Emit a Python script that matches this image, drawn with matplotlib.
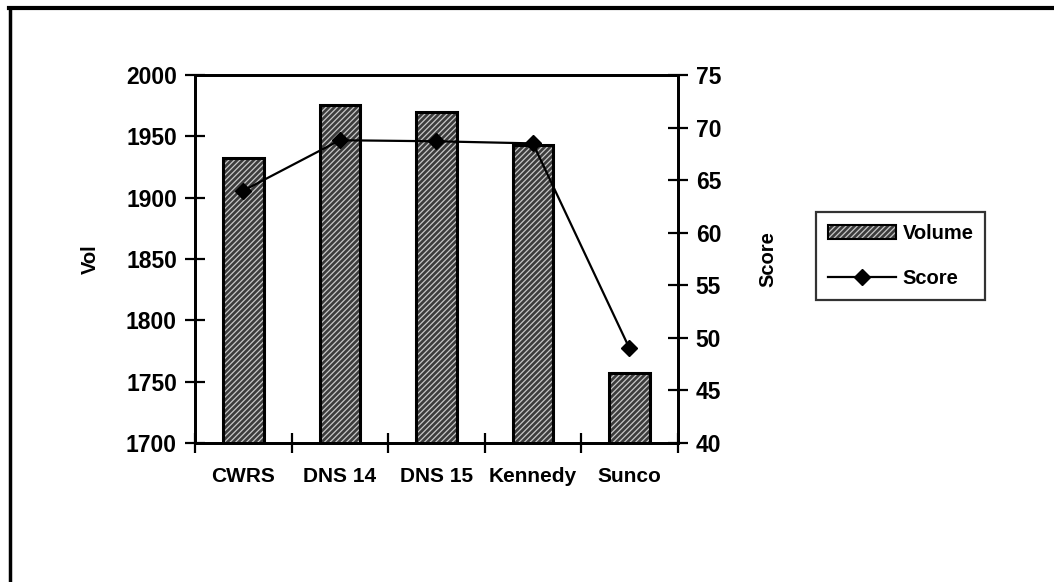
import matplotlib
matplotlib.use("Agg")
import numpy as np
import matplotlib.pyplot as plt
from matplotlib.lines import Line2D
from matplotlib.patches import Patch
from matplotlib.legend_handler import HandlerTuple

plt.rcParams['font.family'] = ['Liberation Sans', 'DejaVu Sans']
plt.rcParams['font.weight'] = 'bold'
plt.rcParams['hatch.linewidth'] = 0.9

varieties = ['CWRS', 'DNS 14', 'DNS 15', 'Kennedy', 'Sunco']
volume = [1932, 1976, 1970, 1943, 1757]
score = [64.0, 68.8, 68.7, 68.5, 49.0]

FS = 14.5
NUM_FS = 16.5

fig = plt.figure(figsize=(10.54, 5.82), dpi=100)
ax = fig.add_axes([0.185, 0.239, 0.458, 0.632])
x = np.arange(len(varieties))

# hatched fill first, then a plain black outline on top
ax.bar(x, volume, width=0.42, color='#3c3c3c', edgecolor='#c8c8c8',
       hatch='//////', linewidth=0, zorder=2)
ax.bar(x, volume, width=0.42, fill=False, edgecolor='black', linewidth=2.2, zorder=3)

ax.set_xlim(-0.5, len(varieties) - 0.5)
ax.set_ylim(1700, 2000)
ax.set_yticks(np.arange(1700, 2001, 50))
ax.set_xticks(np.arange(-0.5, len(varieties), 1.0))
ax.set_xticklabels([])
ax.set_xticks(x, minor=True)
ax.set_xticklabels(varieties, minor=True)
ax.tick_params(axis='x', which='minor', length=0, pad=17, labelsize=FS + 0.5)
ax.tick_params(axis='x', which='major', direction='inout', length=14, width=1.6)
ax.tick_params(axis='y', direction='inout', length=14, width=1.6, labelsize=NUM_FS, pad=6)
for s in ax.spines.values():
    s.set_linewidth(2.0)
ax.set_ylabel('Vol', fontsize=FS, fontweight='bold', labelpad=19)

ax2 = ax.twinx()
ax2.plot(x, score, color='black', linewidth=1.6, marker='D', markersize=8, zorder=4)
ax2.set_ylim(40, 75)
ax2.set_yticks(np.arange(40, 76, 5))
ax2.tick_params(axis='y', direction='inout', length=14, width=1.6, labelsize=NUM_FS, pad=6)
for s in ax2.spines.values():
    s.set_linewidth(2.0)
ax2.set_ylabel('Score', fontsize=FS, fontweight='bold', labelpad=27)

vol_handle = (Patch(facecolor='#3c3c3c', edgecolor='#c8c8c8', hatch='//////', linewidth=0),
              Patch(fill=False, edgecolor='black', linewidth=1.5))
score_handle = Line2D([], [], color='black', linewidth=1.6, marker='D', markersize=8)
leg = fig.legend([vol_handle, score_handle], ['Volume', 'Score'],
                 handler_map={tuple: HandlerTuple(ndivide=1, pad=0)},
                 loc='upper left', bbox_to_anchor=(0.774, 0.636),
                 fontsize=FS, frameon=True, fancybox=False, borderpad=0.6,
                 handlelength=3.4, handletextpad=0.3, labelspacing=1.3,
                 borderaxespad=0)
leg.get_frame().set_edgecolor('black')
leg.get_frame().set_linewidth(1.6)

# page border along the top and left edges
fig.add_artist(Line2D([0.009, 1.0], [0.986, 0.986], transform=fig.transFigure,
                      color='black', linewidth=3))
fig.add_artist(Line2D([0.0095, 0.0095], [0.0, 0.986], transform=fig.transFigure,
                      color='black', linewidth=2.5))

fig.savefig('out.png', dpi=100)
